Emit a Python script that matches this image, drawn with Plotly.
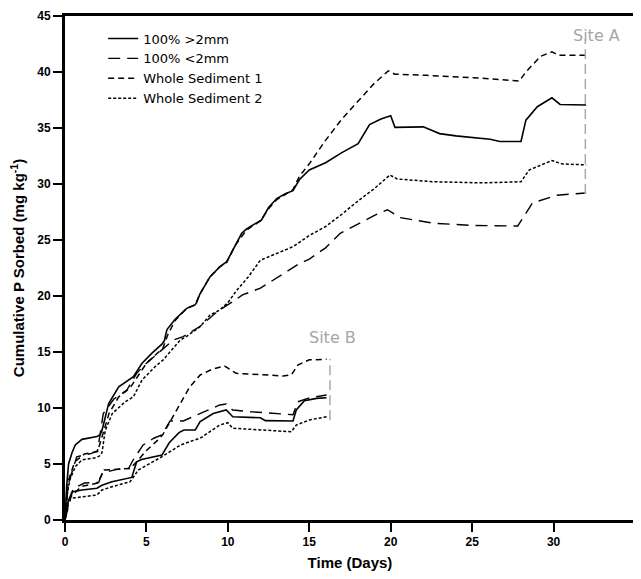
import plotly.graph_objects as go

# ---------------- Site A ----------------
a_gt2_day = [0, 0.1, 0.22, 0.43, 0.63, 1.04, 1.96, 2.15, 2.27, 2.68, 3.3, 3.9, 4.2, 4.73, 5.34, 5.95, 6.1, 6.26, 6.75, 7.47, 7.98, 8.08, 8.29, 8.9, 9.5, 9.93, 10.44, 10.85, 11.15, 12.07, 12.5, 13.0, 13.5, 14.0, 14.4, 15.0, 16.0, 17.0, 18.0, 18.7, 19.4, 20.0, 20.26, 22.0, 23.0, 24.0, 26.1, 26.7, 28.0, 28.3, 29.0, 29.9, 30.4, 32.0]
a_gt2_val = [0, 3.0, 5.0, 6.0, 6.7, 7.2, 7.45, 7.6, 8.0, 10.4, 11.9, 12.5, 12.8, 14.0, 14.9, 15.7, 16.0, 17.0, 17.9, 18.9, 19.2, 19.4, 20.2, 21.7, 22.6, 23.06, 24.55, 25.6, 26.0, 26.8, 27.9, 28.7, 29.1, 29.4, 30.4, 31.25, 31.9, 32.8, 33.6, 35.3, 35.8, 36.1, 35.06, 35.1, 34.5, 34.3, 34.0, 33.8, 33.8, 35.7, 36.9, 37.7, 37.1, 37.05]

a_lt2_day = [0, 0.2, 0.72, 1.64, 2.0, 2.35, 3.0, 3.8, 4.4, 5.0, 5.8, 6.65, 7.26, 8.3, 9.1, 9.5, 10.3, 10.9, 12.0, 13.0, 14.4, 15.0, 16.0, 16.9, 18.1, 19.0, 19.8, 20.6, 22.6, 25.0, 27.8, 28.7, 30.2, 32.0]
a_lt2_val = [0, 3.2, 5.65, 5.95, 6.2, 9.5, 10.8, 11.6, 13.1, 14.0, 15.0, 16.07, 16.37, 17.3, 18.3, 18.75, 19.5, 20.1, 20.7, 21.6, 22.9, 23.3, 24.3, 25.6, 26.5, 27.2, 27.7, 27.0, 26.5, 26.3, 26.25, 28.3, 29.0, 29.2]

a_ws1_day = [0, 0.2, 0.6, 1.2, 2.0, 2.3, 2.7, 3.3, 4.0, 4.5, 5.0, 5.6, 6.0, 6.3, 6.75, 7.47, 7.98, 8.29, 8.9, 9.5, 9.93, 10.44, 11.15, 12.0, 12.5, 13.0, 14.0, 14.4, 15.0, 16.0, 17.0, 18.0, 19.0, 19.85, 20.26, 22.2, 25.0, 27.9, 28.3, 29.2, 29.9, 30.3, 32.0]
a_ws1_val = [0, 3.5, 5.2, 5.9, 6.1, 7.5, 9.5, 11.0, 11.8, 12.9, 14.0, 14.8, 15.3, 16.5, 17.8, 18.9, 19.2, 20.2, 21.7, 22.6, 23.0, 24.5, 25.9, 26.7, 27.8, 28.6, 29.5, 30.7, 31.8, 33.9, 35.8, 37.4, 39.0, 40.1, 39.8, 39.7, 39.5, 39.2, 40.0, 41.4, 41.8, 41.5, 41.5]

a_ws2_day = [0, 0.1, 0.3, 0.63, 1.04, 1.86, 2.1, 2.27, 2.47, 2.9, 3.7, 4.2, 4.73, 5.54, 6.03, 6.57, 7.08, 7.47, 8.29, 8.9, 9.5, 10.0, 10.54, 11.25, 12.0, 13.0, 14.0, 15.0, 16.0, 17.0, 18.0, 19.0, 19.95, 20.4, 22.6, 25.7, 28.0, 28.5, 29.9, 30.5, 32.0]
a_ws2_val = [0, 2.0, 3.6, 4.76, 5.36, 5.56, 5.7, 6.0, 8.0, 9.5, 10.56, 11.0, 12.5, 13.7, 14.3, 15.2, 16.07, 16.4, 17.26, 18.3, 18.75, 19.4, 20.5, 21.7, 23.2, 23.8, 24.4, 25.4, 26.2, 27.3, 28.5, 29.6, 30.8, 30.45, 30.2, 30.1, 30.2, 31.25, 32.1, 31.8, 31.7]

# ---------------- Site B ----------------
b_gt2_day = [0, 0.15, 0.43, 1.04, 1.96, 2.27, 2.88, 3.5, 4.1, 4.4, 4.7, 5.95, 6.4, 7.0, 7.3, 8.0, 8.3, 9.1, 9.9, 10.2, 10.3, 12.0, 12.3, 14.0, 14.2, 14.7, 15.45, 16.06]
b_gt2_val = [0, 1.5, 2.5, 2.68, 2.83, 3.1, 3.42, 3.6, 3.8, 5.2, 5.4, 5.8, 6.9, 7.8, 8.04, 8.04, 8.78, 9.5, 9.82, 9.38, 9.22, 9.13, 8.87, 8.84, 9.82, 10.65, 10.86, 10.92]

b_lt2_day = [0, 0.5, 1.2, 2.07, 2.3, 3.1, 3.9, 4.2, 4.8, 5.45, 5.95, 6.45, 7.26, 8.5, 9.5, 9.9, 10.3, 11.4, 12.4, 13.6, 14.0, 14.3, 15.0, 16.06]
b_lt2_val = [0, 2.8, 3.3, 3.36, 4.2, 4.5, 4.6, 5.4, 6.7, 7.3, 7.6, 8.84, 8.84, 9.67, 10.27, 10.36, 9.82, 9.67, 9.58, 9.43, 9.4, 10.56, 10.9, 11.16]

b_ws1_day = [0, 0.3, 1.0, 2.0, 2.4, 4.0, 4.4, 5.0, 5.6, 6.0, 6.45, 7.06, 7.67, 8.3, 9.1, 9.8, 10.2, 10.5, 13.4, 13.9, 14.3, 15.0, 16.06]
b_ws1_val = [0, 2.0, 3.0, 3.3, 4.46, 4.6, 5.2, 6.2, 7.0, 7.6, 8.78, 10.4, 11.9, 12.95, 13.5, 13.75, 13.4, 13.1, 12.86, 12.95, 13.84, 14.3, 14.35]

b_ws2_day = [0, 0.1, 0.33, 1.04, 1.96, 2.27, 2.88, 4.0, 4.5, 5.95, 6.57, 7.1, 7.67, 8.3, 9.5, 10.0, 10.3, 12.2, 13.9, 14.2, 15.0, 16.06]
b_ws2_val = [0, 1.2, 1.93, 2.08, 2.23, 2.68, 2.97, 3.42, 4.46, 5.65, 6.25, 6.7, 7.0, 7.3, 8.48, 8.69, 8.19, 8.04, 7.88, 8.48, 8.93, 9.22]

# site bracket markers (end of each experiment) and labels
site_names = ["Site A", "Site B"]
site_label_x = [32.65, 16.45]
site_label_y = [43.3, 16.3]
site_bracket_x = [31.95, 16.27]
site_bracket_y0 = [29.1, 8.9]
site_bracket_y1 = [43.0, 14.4]

series_names = ["100% >2mm", "100% <2mm", "Whole Sediment 1", "Whole Sediment 2"]
dash_styles = ["solid", "12px,7px", "6px,4px", "3px,2px"]
widths = [1.6, 1.4, 1.5, 1.5]

site_a = [(a_gt2_day, a_gt2_val), (a_lt2_day, a_lt2_val), (a_ws1_day, a_ws1_val), (a_ws2_day, a_ws2_val)]
site_b = [(b_gt2_day, b_gt2_val), (b_lt2_day, b_lt2_val), (b_ws1_day, b_ws1_val), (b_ws2_day, b_ws2_val)]

fig = go.Figure()
for i, name in enumerate(series_names):
    x, y = site_a[i]
    fig.add_trace(go.Scatter(x=x, y=y, mode="lines", name=name, legendgroup=name,
                             line=dict(color="black", width=widths[i], dash=dash_styles[i])))
for i, name in enumerate(series_names):
    x, y = site_b[i]
    fig.add_trace(go.Scatter(x=x, y=y, mode="lines", name=name, legendgroup=name, showlegend=False,
                             line=dict(color="black", width=widths[i], dash=dash_styles[i])))

for k in range(2):
    fig.add_trace(go.Scatter(x=[site_bracket_x[k], site_bracket_x[k]],
                             y=[site_bracket_y0[k], site_bracket_y1[k]],
                             mode="lines", showlegend=False, hoverinfo="skip",
                             line=dict(color="#aaaaaa", width=1.5, dash="10px,5px")))
    fig.add_annotation(x=site_label_x[k], y=site_label_y[k], text=site_names[k], showarrow=False,
                       font=dict(family="DejaVu Sans", size=16, color="#a6a6a6"))

axis_common = dict(showline=True, linecolor="black", linewidth=3, mirror=True,
                   ticks="outside", ticklen=9, tickwidth=1.5, tickcolor="black",
                   showgrid=False, zeroline=False, automargin=False,
                   tickfont=dict(family="Liberation Sans", size=12, color="black", weight="bold"))

fig.update_xaxes(range=[0, 35], dtick=5, tick0=0,
                 title=dict(text="Time (Days)", font=dict(family="Liberation Sans", size=15, color="black", weight="bold"), standoff=10),
                 **axis_common)
fig.update_yaxes(range=[0, 45], dtick=5, tick0=0,
                 title=dict(text="Cumulative P Sorbed (mg kg<sup>-1</sup>)", font=dict(family="Liberation Sans", size=15, color="black", weight="bold"), standoff=10),
                 **axis_common)

fig.update_layout(
    width=633, height=571,
    margin=dict(l=57, r=6, t=8, b=59),
    plot_bgcolor="white", paper_bgcolor="white",
    showlegend=True,
    legend=dict(x=0.067, y=0.985, xanchor="left", yanchor="top",
                bgcolor="rgba(0,0,0,0)", borderwidth=0,
                font=dict(family="DejaVu Sans", size=13, color="black"),
                tracegroupgap=0, itemwidth=30),
)

fig.write_html("out.html")
